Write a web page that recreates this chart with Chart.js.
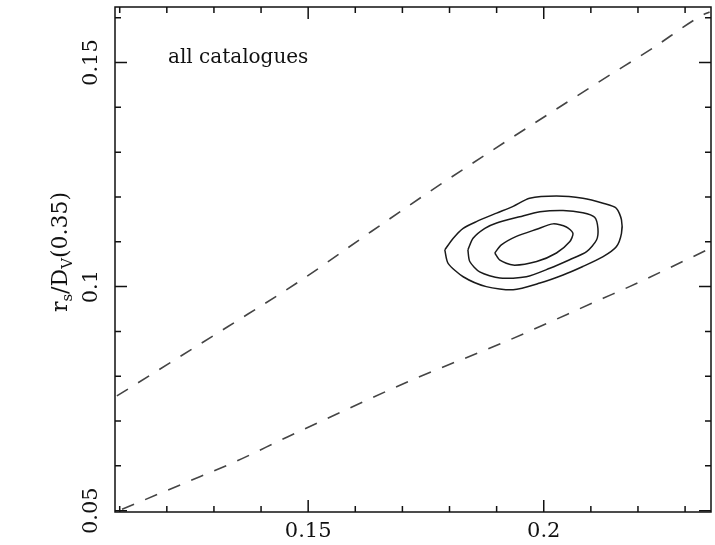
<!DOCTYPE html>
<html>
<head>
<meta charset="utf-8">
<script src="https://cdn.jsdelivr.net/npm/chart.js@4.4.1/dist/chart.umd.min.js"></script>
<style>
	html, body { margin: 0; padding: 0; background: #fff; }
</style>
</head>
<body>
<canvas id="chart" width="715" height="545"></canvas>
<script>
// axis ranges and ticks
const xRange = [0.109, 0.2355];
const yRange = [0.0497, 0.1624];
const xMajorTicks = [0.15, 0.2];
const xTickLabels = ['0.15', '0.2'];
const yMajorTicks = [0.05, 0.1, 0.15];
const yTickLabels = ['0.05', '0.1', '0.15'];
const xMinorTicks = [0.11, 0.12, 0.13, 0.14, 0.15, 0.16, 0.17, 0.18, 0.19, 0.2, 0.21, 0.22, 0.23];
const yMinorTicks = [0.05, 0.06, 0.07, 0.08, 0.09, 0.1, 0.11, 0.12, 0.13, 0.14, 0.15, 0.16];

// dashed bounds
const upperX = [0.1094, 0.1330, 0.1486, 0.1634, 0.1779, 0.2119, 0.2231, 0.2337, 0.2352];
const upperY = [0.0756, 0.0911, 0.1015, 0.1123, 0.1227, 0.1458, 0.1532, 0.1606, 0.1613];
const lowerX = [0.1105, 0.1234, 0.1347, 0.1457, 0.1730, 0.1914, 0.2126, 0.2182, 0.2355];
const lowerY = [0.0503, 0.0560, 0.0610, 0.0665, 0.0796, 0.0875, 0.0974, 0.1000, 0.1086];

// likelihood contours
const outerX = [0.1790, 0.1808, 0.1829, 0.1857, 0.1900, 0.1935, 0.1970, 0.2027, 0.2083, 0.2126, 0.2154,
	0.2165, 0.2165, 0.2154, 0.2126, 0.2083, 0.2041, 0.1992, 0.1935, 0.1878, 0.1829, 0.1797];
const outerY = [0.1082, 0.1108, 0.1130, 0.1145, 0.1164, 0.1179, 0.1197, 0.1202, 0.1197, 0.1186, 0.1175,
	0.1149, 0.1119, 0.1089, 0.1067, 0.1045, 0.1026, 0.1008, 0.0993, 0.1000, 0.1022, 0.1052];
const middleX = [0.1839, 0.1850, 0.1875, 0.1900, 0.1949, 0.1992, 0.2041, 0.2083, 0.2108, 0.2115, 0.2112,
	0.2091, 0.2055, 0.2013, 0.1963, 0.1907, 0.1864, 0.1843];
const middleY = [0.1082, 0.1108, 0.1130, 0.1142, 0.1156, 0.1167, 0.1170, 0.1165, 0.1155, 0.1130, 0.1104,
	0.1078, 0.1060, 0.1041, 0.1022, 0.1019, 0.1033, 0.1056];
const innerX = [0.1896, 0.1910, 0.1942, 0.1985, 0.2020, 0.2048, 0.2062, 0.2055, 0.2027, 0.1985, 0.1935, 0.1907];
const innerY = [0.1075, 0.1093, 0.1112, 0.1128, 0.1140, 0.1133, 0.1119, 0.1100, 0.1075, 0.1056, 0.1048, 0.1059];

const panelLabel = 'all catalogues';
const serif = '"DejaVu Serif", serif';

const toPoints = (xs, ys, closed) => {
	const pts = xs.map((x, i) => ({ x, y: ys[i] }));
	if (closed) pts.push(pts[0]);
	return pts;
};

const lineSet = (xs, ys, closed, dash) => ({
	data: toPoints(xs, ys, closed),
	showLine: true,
	pointRadius: 0,
	borderColor: dash ? '#444' : '#1a1a1a',
	borderWidth: dash ? 1.6 : 1.5,
	borderDash: dash || [],
	tension: closed ? 0.25 : 0,
	cubicInterpolationMode: closed ? 'default' : 'monotone',
	fill: false
});

const frameAndTicks = {
	id: 'frameAndTicks',
	afterDraw(chart) {
		const { ctx, chartArea: a, scales: { x, y } } = chart;
		const isMajor = (v, step) => Math.abs(v / step - Math.round(v / step)) < 1e-6;
		ctx.save();
		ctx.strokeStyle = '#111';
		ctx.lineWidth = 1.5;
		ctx.strokeRect(a.left, a.top, a.right - a.left, a.bottom - a.top);
		ctx.beginPath();
		xMinorTicks.forEach(v => {
			const px = x.getPixelForValue(v);
			const len = isMajor(v, 0.05) ? 12 : 6;
			ctx.moveTo(px, a.bottom);
			ctx.lineTo(px, a.bottom - len);
			ctx.moveTo(px, a.top);
			ctx.lineTo(px, a.top + len);
		});
		yMinorTicks.forEach(v => {
			const py = y.getPixelForValue(v);
			const len = isMajor(v, 0.05) ? 12 : 6;
			ctx.moveTo(a.left, py);
			ctx.lineTo(a.left + len, py);
			ctx.moveTo(a.right, py);
			ctx.lineTo(a.right - len, py);
		});
		ctx.stroke();

		// panel label
		ctx.fillStyle = '#111';
		ctx.font = '20px ' + serif;
		ctx.textBaseline = 'alphabetic';
		ctx.fillText(panelLabel, 168, 63);

		// y title with subscripts, rotated
		const big = '22px ' + serif;
		const small = '15px ' + serif;
		const parts = [
			{ t: 'r', f: big, dy: 0 },
			{ t: 's', f: small, dy: 5 },
			{ t: '/D', f: big, dy: 0 },
			{ t: 'V', f: small, dy: 5 },
			{ t: '(0.35)', f: big, dy: 0 }
		];
		let total = 0;
		parts.forEach(p => { ctx.font = p.f; p.w = ctx.measureText(p.t).width; total += p.w; });
		ctx.translate(67, 252);
		ctx.rotate(-Math.PI / 2);
		let cx = -total / 2;
		parts.forEach(p => {
			ctx.font = p.f;
			ctx.fillText(p.t, cx, p.dy);
			cx += p.w;
		});
		ctx.restore();
	}
};

new Chart(document.getElementById('chart'), {
	type: 'scatter',
	data: {
		datasets: [
			lineSet(upperX, upperY, false, [13, 12]),
			lineSet(lowerX, lowerY, false, [13, 12]),
			lineSet(outerX, outerY, true),
			lineSet(middleX, middleY, true),
			lineSet(innerX, innerY, true)
		]
	},
	options: {
		responsive: false,
		animation: false,
		layout: { padding: { top: 7, right: 4, left: 0, bottom: 0 } },
		plugins: {
			legend: { display: false },
			tooltip: { enabled: false }
		},
		scales: {
			x: {
				type: 'linear',
				min: xRange[0],
				max: xRange[1],
				grid: { display: false, drawTicks: false },
				border: { display: false },
				afterBuildTicks: s => { s.ticks = xMajorTicks.map(v => ({ value: v })); },
				afterFit: s => { s.height = 33; s.paddingLeft = 0; s.paddingRight = 0; },
				ticks: {
					padding: 7,
					color: '#111',
					font: { family: serif, size: 21 },
					maxRotation: 0,
					callback: v => xTickLabels[xMajorTicks.findIndex(t => Math.abs(t - v) < 1e-6)] || ''
				}
			},
			y: {
				type: 'linear',
				min: yRange[0],
				max: yRange[1],
				grid: { display: false, drawTicks: false },
				border: { display: false },
				afterBuildTicks: s => { s.ticks = yMajorTicks.map(v => ({ value: v })); },
				afterFit: s => { s.width = 115; s.paddingTop = 0; s.paddingBottom = 0; },
				ticks: {
					padding: 0,
					color: '#111',
					crossAlign: 'center',
					minRotation: 90,
					maxRotation: 90,
					font: { family: serif, size: 21 },
					callback: v => yTickLabels[yMajorTicks.findIndex(t => Math.abs(t - v) < 1e-6)] || ''
				}
			}
		}
	},
	plugins: [frameAndTicks]
});
</script>
</body>
</html>
